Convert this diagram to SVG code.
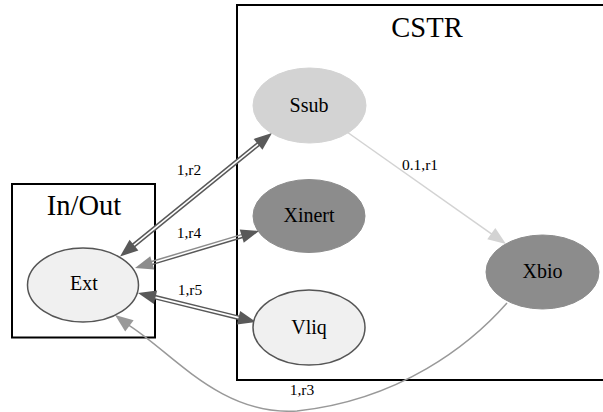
<svg xmlns="http://www.w3.org/2000/svg" width="603" height="412" viewBox="0 0 603 412">
<style>
text{font-family:'Liberation Serif','Times New Roman',Times,'Nimbus Roman','Nimbus Roman No9 L',FreeSerif,'Noto Serif','DejaVu Serif',Tinos,serif;fill:#000;text-anchor:middle}
.cl{fill:none;stroke:#000;stroke-width:2}
.ct{font-size:28.5px}
.nt{font-size:20px}
.et{font-size:15.5px}
.light{fill:#f0f0f0;stroke:#555;stroke-width:1.5}
.ssub{fill:#d3d3d3;stroke:#d3d3d3}
.dark{fill:#8c8c8c;stroke:#8c8c8c}
.dbl{fill:none;stroke:#595959;stroke-width:4.6}
.gap{fill:none;stroke:#fff;stroke-width:1.6}
.ln{fill:none;stroke-width:1.5}
.ah{stroke:none}
</style>
<rect width="603" height="412" fill="#fff"/>
<g id="cluster_inout">
<rect class="cl" x="12" y="184" width="143" height="153.5"/>
<text class="ct" x="84" y="215">In/Out</text>
</g>
<g id="cluster_cstr">
<polyline class="cl" points="610,5 237,5 237,380 610,380"/>
<text class="ct" x="427" y="37">CSTR</text>
</g>
<g id="edges">
<g id="e_ext_ssub">
<path class="dbl" d="M132.4,246.4 L259.6,143.1"/>
<path class="gap" d="M131.5,247.1 L260.5,142.4"/>
<polygon class="ah" fill="#595959" points="120,256.5 138.38,250.58 129.56,239.72"/>
<polygon class="ah" fill="#595959" points="272,133 262.44,149.78 253.62,138.92"/>
<text class="et" x="189" y="175">1,r2</text>
</g>
<g id="e_ext_xinert">
<path class="ln" stroke="#8c8c8c" d="M149.9,262.0 L243.2,234.1"/>
<path class="ln" stroke="#595959" d="M150.8,264.9 L244.1,237.0"/>
<polygon class="ah" fill="#8c8c8c" points="135,268 154.25,269.56 150.25,256.14"/>
<polygon class="ah" fill="#595959" points="259,231 243.75,242.86 239.75,229.44"/>
<text class="et" x="189" y="238">1,r4</text>
</g>
<g id="e_ext_vliq">
<path class="dbl" d="M153.5,296.8 L240.5,318.2"/>
<path class="gap" d="M152.5,296.6 L241.5,318.4"/>
<polygon class="ah" fill="#595959" points="138,293 153.81,304.10 157.15,290.50"/>
<polygon class="ah" fill="#595959" points="256,322 236.85,324.50 240.19,310.90"/>
<text class="et" x="190" y="295">1,r5</text>
</g>
<g id="e_ssub_xbio">
<path class="ln" stroke="#d3d3d3" d="M347,132 L492.9,234.8"/>
<polygon class="ah" fill="#d3d3d3" points="506,244 487.26,239.36 495.32,227.92"/>
<text class="et" x="420" y="170">0.1,r1</text>
</g>
<g id="e_xbio_ext">
<path class="ln" stroke="#999" d="M507,303 C470,345 400,400 297,411 C220,416 172,352 127.8,324.6"/>
<polygon class="ah" fill="#999" points="115,315 125.2,331.4 133.6,320.2"/>
<text class="et" x="302" y="395">1,r3</text>
</g>
</g>
<g id="node_ext">
<ellipse class="light" cx="83" cy="285" rx="55.5" ry="37"/>
<text class="nt" x="84" y="290">Ext</text>
</g>
<g id="node_ssub">
<ellipse class="ssub" cx="309.5" cy="105.5" rx="56.5" ry="37.5"/>
<text class="nt" x="309" y="111.5">Ssub</text>
</g>
<g id="node_xinert">
<ellipse class="dark" cx="309" cy="216" rx="56" ry="36.5"/>
<text class="nt" x="309" y="222">Xinert</text>
</g>
<g id="node_xbio">
<ellipse class="dark" cx="542.5" cy="272" rx="56.5" ry="37"/>
<text class="nt" x="542.5" y="277.5">Xbio</text>
</g>
<g id="node_vliq">
<ellipse class="light" cx="309" cy="327.5" rx="56" ry="37.5"/>
<text class="nt" x="309" y="333.5">Vliq</text>
</g>
</svg>
